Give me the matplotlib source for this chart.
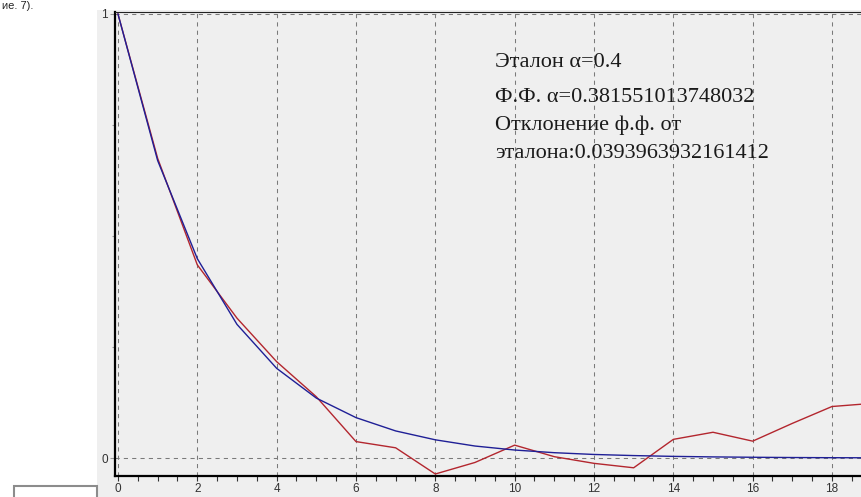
import matplotlib
matplotlib.use("Agg")
import matplotlib.pyplot as plt
from matplotlib.ticker import MultipleLocator, FixedLocator
from matplotlib.patches import Rectangle

# ---- data ----
x_vals = list(range(20))
etalon = [1.000, 0.670, 0.449, 0.301, 0.202, 0.135, 0.091, 0.061, 0.041, 0.027,
          0.018, 0.012, 0.008, 0.0055, 0.0037, 0.0025, 0.0017, 0.0011, 0.0007, 0.0005]
ff_vals = [1.000, 0.675, 0.435, 0.315, 0.217, 0.138, 0.037, 0.023, -0.036, -0.010,
           0.029, 0.003, -0.012, -0.022, 0.042, 0.058, 0.038, 0.078, 0.116, 0.123]
x_ticks = [0, 2, 4, 6, 8, 10, 12, 14, 16, 18]
y_ticks = [0, 1]
info_lines = ["Эталон α=0.4",
              "Ф.Ф. α=0.381551013748032",
              "Отклонение ф.ф. от",
              "эталона:0.0393963932161412"]
caption_fragment = "ие. 7)."

W, H = 862, 497
fig = plt.figure(figsize=(W / 100, H / 100), dpi=100)
fig.patch.set_facecolor("white")

# grey chart panel
fig.patches.append(Rectangle((97 / W, 0), 1 - 97 / W, (H - 10) / H,
                             transform=fig.transFigure, facecolor="#efefef",
                             edgecolor="none", zorder=-10))
# grey box outline at bottom-left
fig.patches.append(Rectangle((14 / W, -0.1), (97 - 14) / W, 0.1 + (H - 486) / H,
                             transform=fig.transFigure, facecolor="none",
                             edgecolor="#8c8c8c", linewidth=1.5, zorder=-5))

ax = fig.add_axes([114.8 / W, 21 / H, 800.5 / W, 464 / H])
ax.set_zorder(1)
ax.set_facecolor("#efefef")
ax.set_xlim(-0.08, 20.1)
ax.set_ylim(-0.0405, 1.0045)

# grid
for xv in x_ticks + [20]:
    ax.axvline(xv, color="#7a7a7a", lw=0.75, ls=(0, (4, 4)), zorder=1)
for yv in y_ticks:
    ax.axhline(yv, color="#7a7a7a", lw=0.75, ls=(0, (4, 4)), zorder=1)

ax.plot(x_vals, ff_vals, color="#b3262e", lw=1.0, zorder=3)
ax.plot(x_vals, etalon, color="#1f1f96", lw=1.0, zorder=4)

ax.xaxis.set_major_locator(FixedLocator(x_ticks))
ax.xaxis.set_minor_locator(MultipleLocator(0.5))
ax.yaxis.set_major_locator(FixedLocator(y_ticks))
ax.yaxis.set_minor_locator(MultipleLocator(0.25))

ax.tick_params(axis="x", which="both", direction="out", length=3.6, width=0.8,
               color="#333333", pad=1.5, labelsize=8.5, labelcolor="#333333")
ax.tick_params(axis="y", which="major", direction="out", length=3.6, width=0.8,
               color="#999999", pad=1.5, labelsize=8.5, labelcolor="#333333")
ax.tick_params(axis="y", which="minor", direction="out", length=2.5, width=0.8,
               color="#999999")
for lab in ax.get_xticklabels() + ax.get_yticklabels():
    lab.set_family("Liberation Sans")

for side in ["left", "bottom"]:
    ax.spines[side].set_linewidth(1.6)
    ax.spines[side].set_color("black")
ax.spines["top"].set_linewidth(0.8)
ax.spines["top"].set_color("#222222")
ax.spines["right"].set_visible(False)

# info text
baselines = [67, 102, 130, 158]
for line, b in zip(info_lines, baselines):
    fig.text(495 / W, (H - b) / H, line, family="Liberation Serif", fontsize=16,
             color="#1a1a1a", va="baseline", ha="left")

# caption fragment at top-left
fig.text(2 / W, 1.0 - 1 / H, caption_fragment, family="Liberation Sans", fontsize=8,
         color="#222222", va="top", ha="left")

fig.savefig("out.png", dpi=100)
